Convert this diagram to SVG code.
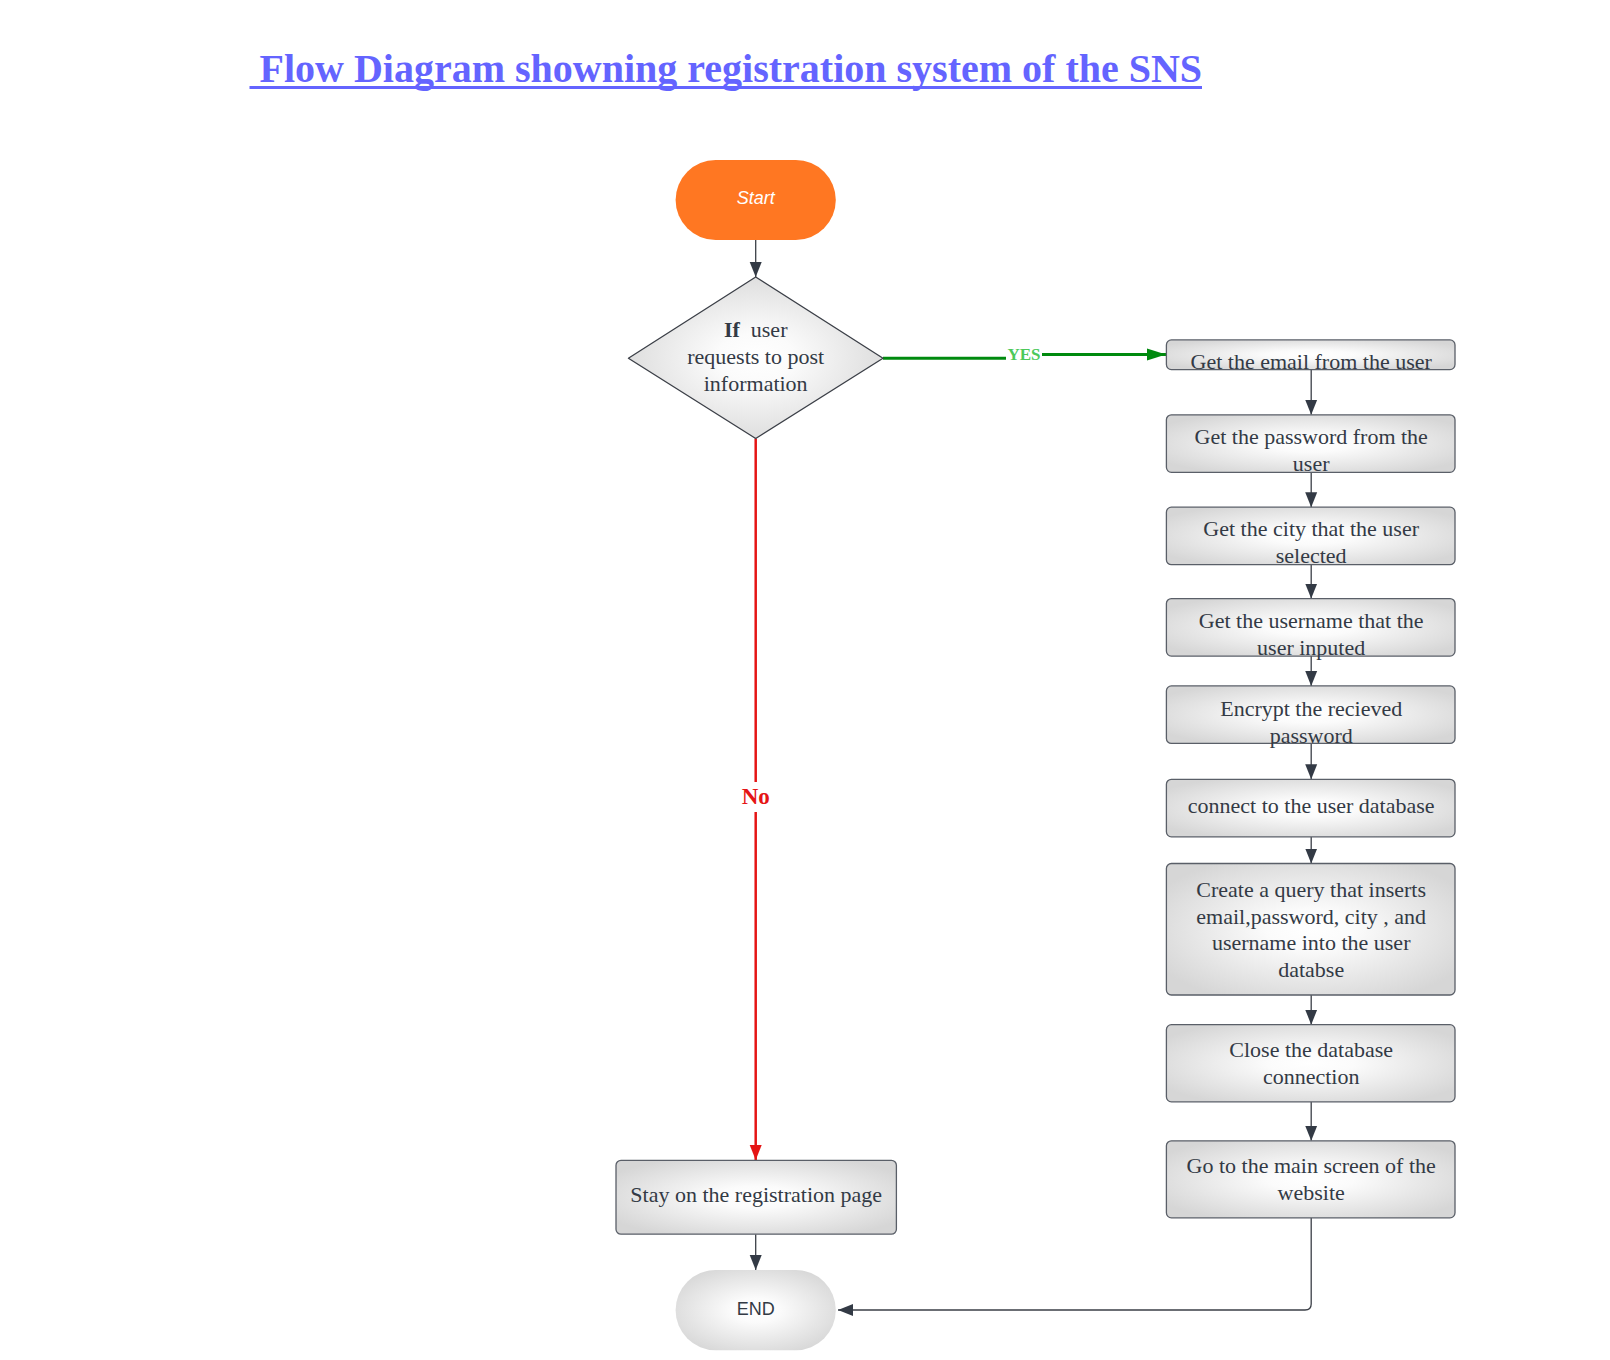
<svg xmlns="http://www.w3.org/2000/svg" width="1610" height="1360" viewBox="0 0 1610 1360">
<style>
.box{fill:url(#g);stroke:#5a5f68;stroke-width:1.3}
.t{font-family:"Liberation Serif",serif;font-size:22px;fill:#333a45;text-anchor:middle}
.c{fill:none;stroke:#3b3f47;stroke-width:1.3}
</style>
<defs>
<radialGradient id="g" cx="50%" cy="50%" r="60%">
<stop offset="0" stop-color="#ffffff"/>
<stop offset="0.25" stop-color="#fbfbfb"/>
<stop offset="1" stop-color="#d6d6d6"/>
</radialGradient>
<marker id="ad" markerUnits="userSpaceOnUse" markerWidth="16" markerHeight="16" viewBox="0 0 16 16" refX="15" refY="8" orient="auto">
<path d="M0,2 L15,8 L0,14 Z" fill="#333a45"/>
</marker>
<marker id="ag" markerUnits="userSpaceOnUse" markerWidth="20" markerHeight="14" viewBox="0 0 20 14" refX="19" refY="7" orient="auto">
<path d="M0,1 L19,7 L0,13 Z" fill="#008a0e"/>
</marker>
<marker id="ar" markerUnits="userSpaceOnUse" markerWidth="16" markerHeight="16" viewBox="0 0 16 16" refX="15" refY="8" orient="auto">
<path d="M0,2 L15,8 L0,14 Z" fill="#e51515"/>
</marker>
</defs>
<rect width="1610" height="1360" fill="#ffffff"/>

<g id="title">
<text x="249.5" y="82" xml:space="preserve" font-family="Liberation Serif, serif" font-weight="bold" font-size="40" fill="#6464ff"> Flow Diagram showning registration system of the SNS</text>
<line x1="249.5" y1="87.5" x2="1202" y2="87.5" stroke="#6464ff" stroke-width="3"/>
</g>

<g id="connectors">
<line class="c" x1="755.7" y1="240" x2="755.7" y2="277" marker-end="url(#ad)"/>
<path d="M883,358.3 H1006" fill="none" stroke="#008a0e" stroke-width="3"/>
<path d="M1042,354.5 H1166" fill="none" stroke="#008a0e" stroke-width="3" marker-end="url(#ag)"/>
<text x="1024" y="359.5" font-family="Liberation Serif, serif" font-weight="bold" font-size="17" fill="#4cc95a" text-anchor="middle">YES</text>
<line x1="755.7" y1="438.5" x2="755.7" y2="782" stroke="#e51515" stroke-width="2.5"/>
<line x1="755.7" y1="812" x2="755.7" y2="1160" stroke="#e51515" stroke-width="2.5" marker-end="url(#ar)"/>
<text x="755.7" y="804" font-family="Liberation Serif, serif" font-weight="bold" font-size="23" fill="#e51515" text-anchor="middle">No</text>
<line class="c" x1="1311.2" y1="369.6" x2="1311.2" y2="414.8" marker-end="url(#ad)"/>
<line class="c" x1="1311.2" y1="472.3" x2="1311.2" y2="507.2" marker-end="url(#ad)"/>
<line class="c" x1="1311.2" y1="564.7" x2="1311.2" y2="598.6" marker-end="url(#ad)"/>
<line class="c" x1="1311.2" y1="656.1" x2="1311.2" y2="685.9" marker-end="url(#ad)"/>
<line class="c" x1="1311.2" y1="743.4" x2="1311.2" y2="779.3" marker-end="url(#ad)"/>
<line class="c" x1="1311.2" y1="836.8" x2="1311.2" y2="863.5" marker-end="url(#ad)"/>
<line class="c" x1="1311.2" y1="995" x2="1311.2" y2="1024.7" marker-end="url(#ad)"/>
<line class="c" x1="1311.2" y1="1101.8" x2="1311.2" y2="1140.8" marker-end="url(#ad)"/>
<path class="c" d="M1311.2,1217.8 V1304 Q1311.2,1310 1305,1310 H838" marker-end="url(#ad)"/>
<line class="c" x1="755.7" y1="1234.2" x2="755.7" y2="1270" marker-end="url(#ad)"/>
</g>

<g id="start">
<rect x="675.6" y="160" width="160.2" height="80" rx="40" fill="#ff7722"/>
<text x="755.7" y="204" font-family="Liberation Sans, sans-serif" font-style="italic" font-size="18" fill="#ffffff" text-anchor="middle">Start</text>
</g>

<g id="decision">
<polygon points="755.7,277 883,358.3 755.7,438.5 628.4,358.3" fill="url(#g)" stroke="#3b3f47" stroke-width="1.3" stroke-linejoin="round"/>
<text class="t" x="755.7" y="337" xml:space="preserve"><tspan font-weight="bold">If</tspan>  user</text>
<text class="t" x="755.7" y="364">requests to post</text>
<text class="t" x="755.7" y="391">information</text>
</g>

<g id="n1">
<rect class="box" x="1166.4" y="339.9" width="288.6" height="29.7" rx="5"/>
<text class="t" x="1311.2" y="369">Get the email from the user</text>
</g>
<g id="n2">
<rect class="box" x="1166.4" y="414.8" width="288.6" height="57.5" rx="5"/>
<text class="t" x="1311.2" y="444">Get the password from the</text>
<text class="t" x="1311.2" y="470.7">user</text>
</g>
<g id="n3">
<rect class="box" x="1166.4" y="507.2" width="288.6" height="57.5" rx="5"/>
<text class="t" x="1311.2" y="536.4">Get the city that the user</text>
<text class="t" x="1311.2" y="563.1">selected</text>
</g>
<g id="n4">
<rect class="box" x="1166.4" y="598.6" width="288.6" height="57.5" rx="5"/>
<text class="t" x="1311.2" y="627.8">Get the username that the</text>
<text class="t" x="1311.2" y="654.5">user inputed</text>
</g>
<g id="n5">
<rect class="box" x="1166.4" y="685.9" width="288.6" height="57.5" rx="5"/>
<text class="t" x="1311.2" y="716.1">Encrypt the recieved</text>
<text class="t" x="1311.2" y="742.8">password</text>
</g>
<g id="n6">
<rect class="box" x="1166.4" y="779.3" width="288.6" height="57.5" rx="5"/>
<text class="t" x="1311.2" y="812.6">connect to the user database</text>
</g>
<g id="n7">
<rect class="box" x="1166.4" y="863.5" width="288.6" height="131.5" rx="5"/>
<text class="t" x="1311.2" y="896.8">Create a query that inserts</text>
<text class="t" x="1311.2" y="923.5">email,password, city , and</text>
<text class="t" x="1311.2" y="950.2">username into the user</text>
<text class="t" x="1311.2" y="976.9">databse</text>
</g>
<g id="n8">
<rect class="box" x="1166.4" y="1024.7" width="288.6" height="77.1" rx="5"/>
<text class="t" x="1311.2" y="1057">Close the database</text>
<text class="t" x="1311.2" y="1083.7">connection</text>
</g>
<g id="n9">
<rect class="box" x="1166.4" y="1140.8" width="288.6" height="77" rx="5"/>
<text class="t" x="1311.2" y="1173">Go to the main screen of the</text>
<text class="t" x="1311.2" y="1199.8">website</text>
</g>

<g id="stay">
<rect class="box" x="616" y="1160.3" width="280.4" height="73.9" rx="5"/>
<text class="t" x="756.2" y="1201.8">Stay on the registration page</text>
</g>

<g id="end">
<rect x="675.6" y="1270" width="160.2" height="80.2" rx="40" fill="url(#g)"/>
<text x="755.7" y="1314.5" font-family="Liberation Sans, sans-serif" font-size="18" fill="#333a45" text-anchor="middle">END</text>
</g>
</svg>
